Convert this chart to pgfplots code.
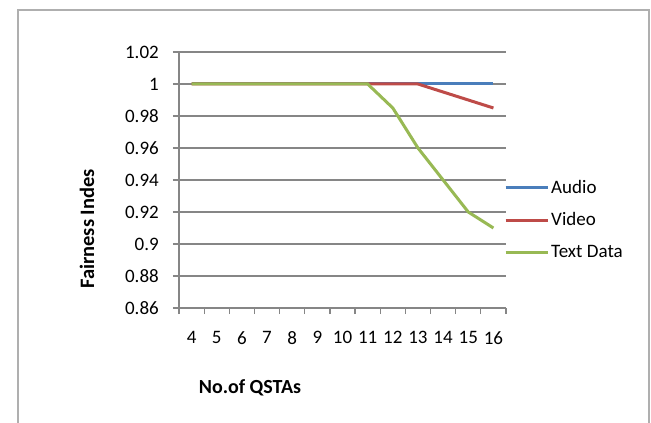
\documentclass[border=0pt]{standalone}
\usepackage{fontspec}
\setmainfont{Carlito}
\usepackage{pgfplots}
\pgfplotsset{compat=1.18}
\definecolor{cAudio}{RGB}{74,126,187}
\definecolor{cVideo}{RGB}{190,75,72}
\definecolor{cText}{RGB}{152,185,84}
\definecolor{gridc}{RGB}{134,134,134}
\definecolor{framec}{RGB}{175,175,175}
\begin{document}
\begin{tikzpicture}
\useasboundingbox (0,0) rectangle (651pt,423pt);
\fill[white] (0,0) rectangle (651pt,423pt);
\draw[framec, line width=2pt] (17.5pt,-5pt) -- (17.5pt,413pt) -- (649pt,413pt) -- (649pt,-5pt);
\begin{axis}[
  at={(179pt,115pt)}, anchor=south west,
  scale only axis, width=327pt, height=256pt,
  xmin=3.5, xmax=16.5, ymin=0.86, ymax=1.02,
  axis x line*=bottom, axis y line*=left,
  axis line style={gridc, line width=1.2pt, -},
  xtick={4,5,6,7,8,9,10,11,12,13,14,15,16},
  xticklabels={4,5,6,7,8,9,10,11,12,13,14,15,16},
  minor xtick={3.5,4.5,5.5,6.5,7.5,8.5,9.5,10.5,11.5,12.5,13.5,14.5,15.5,16.5},
  ytick={0.86,0.88,0.90,0.92,0.94,0.96,0.98,1.00,1.02},
  yticklabels={0.86,0.88,0.9,0.92,0.94,0.96,0.98,1,1.02},
  tick align=outside,
  major tick length=6pt, minor tick length=6pt,
  major x tick style={draw=none},
  minor x tick style={gridc, line width=1.2pt},
  ytick style={gridc, line width=1.2pt},
  ymajorgrids, major grid style={gridc, line width=1.2pt},
  tick label style={font=\fontsize{19}{20}\selectfont, text=black},
  yticklabel style={anchor=east, inner sep=0pt, xshift=-14pt},
  xticklabel style={anchor=north, inner sep=0pt, yshift=-17pt},
  xlabel={No.of QSTAs},
  ylabel={Fairness Indes},
  xlabel style={at={(axis description cs:0.217,-0.3125)}, anchor=center, font=\fontsize{20}{22}\selectfont\bfseries},
  ylabel style={at={(axis description cs:-0.281,0.309)}, anchor=center, rotate=0, font=\fontsize{20.5}{22}\selectfont\bfseries},
  legend style={at={(rel axis cs:0.994,0.3457)}, anchor=west, draw=none, fill=none,
    inner sep=0pt, row sep=12pt, column sep=0pt,
    nodes={inner xsep=2pt, inner ysep=3pt},
    font=\fontsize{19}{20}\selectfont},
  legend cell align=left,
  legend image code/.code={\draw[#1] (0pt,0pt) -- (42pt,0pt);},
  clip=false,
]
\addplot[cAudio, line width=3pt] coordinates {(4,1)(5,1)(6,1)(7,1)(8,1)(9,1)(10,1)(11,1)(12,1)(13,1)(14,1)(15,1)(16,1)};
\addlegendentry{Audio}
\addplot[cVideo, line width=3pt] coordinates {(4,1)(5,1)(6,1)(7,1)(8,1)(9,1)(10,1)(11,1)(12,1)(13,1)(14,0.995)(15,0.99)(16,0.985)};
\addlegendentry{Video}
\addplot[cText, line width=3pt] coordinates {(4,1)(5,1)(6,1)(7,1)(8,1)(9,1)(10,1)(11,1)(12,0.985)(13,0.96)(14,0.94)(15,0.92)(16,0.91)};
\addlegendentry{Text Data}
\end{axis}
\end{tikzpicture}
\end{document}
